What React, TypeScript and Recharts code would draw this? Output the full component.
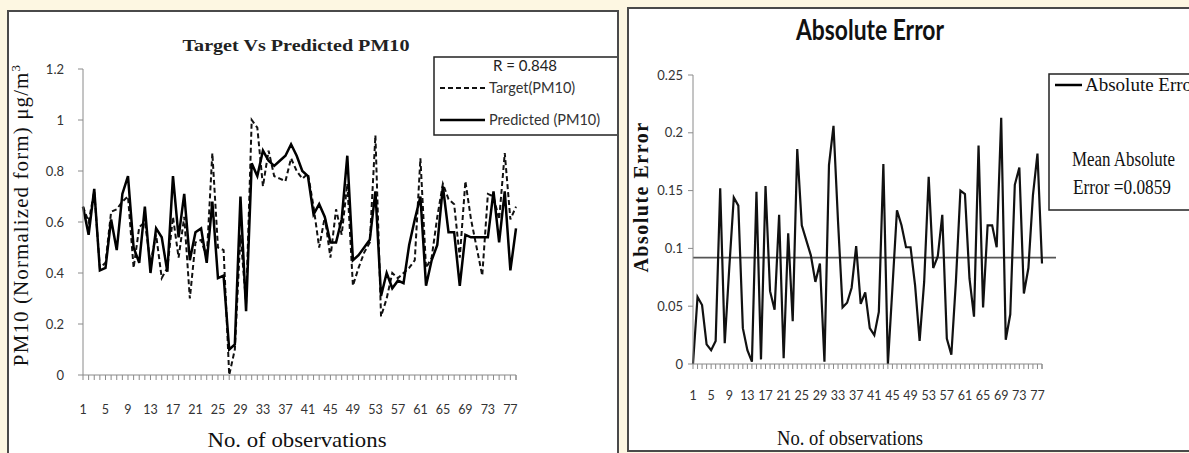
import React from 'react';
import { LineChart, Line, XAxis, YAxis, ReferenceLine } from 'recharts';

const observations = [
  1, 2, 3, 4, 5, 6, 7, 8, 9, 10, 11, 12, 13, 14, 15, 16, 17, 18, 19, 20,
  21, 22, 23, 24, 25, 26, 27, 28, 29, 30, 31, 32, 33, 34, 35, 36, 37, 38, 39, 40,
  41, 42, 43, 44, 45, 46, 47, 48, 49, 50, 51, 52, 53, 54, 55, 56, 57, 58, 59, 60,
  61, 62, 63, 64, 65, 66, 67, 68, 69, 70, 71, 72, 73, 74, 75, 76, 77, 78,
];

const targetPM10 = [
  0.66, 0.6, 0.72, 0.42, 0.44, 0.64, 0.65, 0.68, 0.7, 0.42,
  0.58, 0.6, 0.44, 0.55, 0.38, 0.42, 0.62, 0.46, 0.62, 0.3,
  0.52, 0.53, 0.46, 0.87, 0.5, 0.49, 0.0, 0.1, 0.55, 0.28,
  1.0, 0.97, 0.74, 0.88, 0.78, 0.77, 0.76, 0.85, 0.8, 0.77,
  0.79, 0.66, 0.5, 0.62, 0.46, 0.65, 0.55, 0.75, 0.35, 0.42,
  0.48, 0.52, 0.94, 0.23, 0.3, 0.4, 0.38, 0.4, 0.42, 0.45,
  0.85, 0.42, 0.46, 0.62, 0.75, 0.69, 0.67, 0.46, 0.76, 0.61,
  0.5, 0.39, 0.71, 0.7, 0.61, 0.87, 0.61, 0.66,
];

const predictedPM10 = [
  0.66, 0.55, 0.73, 0.41, 0.42, 0.61, 0.49, 0.71, 0.78, 0.5,
  0.44, 0.66, 0.4, 0.575, 0.54, 0.405, 0.78, 0.54, 0.71, 0.45,
  0.56, 0.575, 0.44, 0.68, 0.38, 0.39, 0.1, 0.12, 0.7, 0.25,
  0.83, 0.78, 0.88, 0.84, 0.82, 0.84, 0.86, 0.905, 0.86, 0.8,
  0.78, 0.63, 0.67, 0.62, 0.52, 0.52, 0.61, 0.86, 0.45, 0.47,
  0.5, 0.53, 0.72, 0.31, 0.4, 0.34, 0.37, 0.36, 0.51, 0.61,
  0.7, 0.35, 0.45, 0.51, 0.74, 0.56, 0.56, 0.35, 0.55, 0.54,
  0.54, 0.54, 0.54, 0.72, 0.52, 0.72, 0.41, 0.575,
];

const absoluteError = [
  0.0, 0.058, 0.051, 0.017, 0.012, 0.02, 0.152, 0.018, 0.083, 0.144,
  0.137, 0.031, 0.012, 0.002, 0.149, 0.004, 0.154, 0.063, 0.047, 0.129,
  0.005, 0.113, 0.037, 0.186, 0.12, 0.107, 0.094, 0.071, 0.087, 0.002,
  0.172, 0.206, 0.123, 0.049, 0.053, 0.066, 0.102, 0.052, 0.062, 0.031,
  0.025, 0.045, 0.173, 0.0, 0.066, 0.133, 0.12, 0.101, 0.101, 0.068,
  0.02, 0.071, 0.162, 0.083, 0.093, 0.129, 0.022, 0.008, 0.071, 0.15,
  0.147, 0.074, 0.041, 0.189, 0.049, 0.12, 0.12, 0.101, 0.213, 0.021,
  0.043, 0.155, 0.17, 0.061, 0.083, 0.146, 0.182, 0.087,
];

const pmTicks = [0, 0.2, 0.4, 0.6, 0.8, 1, 1.2];
const errorTicks = [0, 0.05, 0.1, 0.15, 0.2, 0.25];
const meanErrorLevel = 0.092;

const leftTitle = 'Target Vs Predicted PM10';
const leftYLabel = 'PM10 (Normalized form) \u03bcg/m';
const xLabel = 'No. of observations';
const correlationLabel = 'R = 0.848';
const targetName = 'Target(PM10)';
const predictedName = 'Predicted (PM10)';
const rightTitle = 'Absolute Error';
const rightYLabel = 'Absolute Error';
const errorName = 'Absolute Error';
const meanLine1 = 'Mean Absolute';
const meanLine2 = 'Error =0.0859';

const pmData = observations.map((o, i) => ({
  obs: o,
  target: targetPM10[i],
  predicted: predictedPM10[i],
}));
const errData = observations.map((o, i) => ({ obs: o, error: absoluteError[i] }));

const SANS = 'Lato, "Open Sans", sans-serif';
const SERIF = '"Liberation Serif", "Times New Roman", serif';
const AXIS_GRAY = '#8a8a8a';

const makeXTick = (labelDy: number, total: number) => (props: any) => {
  const { x, y, payload, index } = props;
  const half = payload && typeof payload.offset === 'number' ? payload.offset : 0;
  return (
    <g>
      <line x1={x - half} x2={x - half} y1={y - 5} y2={y} stroke={AXIS_GRAY} strokeWidth={1} />
      {index === total - 1 && (
        <line x1={x + half} x2={x + half} y1={y - 5} y2={y} stroke={AXIS_GRAY} strokeWidth={1} />
      )}
      {index % 4 === 0 && (
        <text x={x} y={y + labelDy} textAnchor="middle" fontFamily={SANS} fontSize={12.5} fill="#333">
          {payload.value}
        </text>
      )}
    </g>
  );
};

const leftXTick = makeXTick(34, observations.length);
const rightXTick = makeXTick(31, observations.length);

const MeanLineShape = (p: any) => (
  <line x1={p.x1} y1={p.y1} x2={p.x2 + 14} y2={p.y2} stroke="#555" strokeWidth={1.6} />
);

export default function App() {
  return (
    <div
      style={{
        position: 'absolute',
        left: 0,
        top: 0,
        width: 1189,
        height: 453,
        overflow: 'hidden',
        background: '#fdf7e2',
      }}
    >
      {/* Left panel */}
      <div
        style={{
          position: 'absolute',
          left: 7,
          top: 10,
          width: 612,
          height: 460,
          border: '2px solid #4a4a4a',
          background: '#ffffff',
          boxSizing: 'border-box',
          overflow: 'hidden',
        }}
      >
        <LineChart
          width={600}
          height={440}
          data={pmData}
          margin={{ top: 57, right: 93, left: 14, bottom: 37 }}
        >
          <XAxis
            dataKey="obs"
            interval={0}
            tick={leftXTick}
            tickLine={false}
            tickSize={5}
            tickMargin={0}
            height={40}
            axisLine={{ stroke: AXIS_GRAY }}
          />
          <YAxis
            domain={[0, 1.2]}
            ticks={pmTicks}
            interval={0}
            width={60}
            tickSize={5}
            tickMargin={14}
            axisLine={{ stroke: AXIS_GRAY }}
            tickLine={{ stroke: AXIS_GRAY }}
            tick={{ fontFamily: SANS, fontSize: 13, fill: '#333' }}
          />
          <Line
            type="linear"
            dataKey="target"
            stroke="#111"
            strokeWidth={2}
            strokeDasharray="5 3"
            dot={false}
            isAnimationActive={false}
          />
          <Line
            type="linear"
            dataKey="predicted"
            stroke="#000"
            strokeWidth={2.5}
            dot={false}
            isAnimationActive={false}
          />
        </LineChart>
        <svg
          width={612}
          height={460}
          style={{ position: 'absolute', left: 0, top: 0, pointerEvents: 'none' }}
        >
          <text
            x={287}
            y={39}
            textAnchor="middle"
            fontFamily={SERIF}
            fontWeight="bold"
            fontSize={17}
            textLength={227}
            lengthAdjust="spacingAndGlyphs"
            fill="#222"
          >
            {leftTitle}
          </text>
          <text
            transform="translate(12,203) rotate(-90)"
            textAnchor="middle"
            dominantBaseline="central"
            fontFamily={SERIF}
            fontSize={21}
            letterSpacing={1.1}
            fill="#111"
          >
            {leftYLabel}
            <tspan dy={-6} fontSize={13}>3</tspan>
          </text>
          <text
            x={288}
            y={435}
            textAnchor="middle"
            fontFamily={SERIF}
            fontSize={22}
            textLength={179}
            lengthAdjust="spacingAndGlyphs"
            fill="#111"
          >
            {xLabel}
          </text>
          <rect x={425} y={45} width={200} height={78} fill="#fff" stroke="#222" strokeWidth={1.5} />
          <text x={516} y={59} textAnchor="middle" fontFamily={SANS} fontSize={15} fill="#222">
            {correlationLabel}
          </text>
          <line x1={431} x2={476} y1={76} y2={76} stroke="#111" strokeWidth={2} strokeDasharray="5 3" />
          <text x={480} y={81} fontFamily={SANS} fontSize={14.5} fill="#333">
            {targetName}
          </text>
          <line x1={431} x2={476} y1={108} y2={108} stroke="#000" strokeWidth={2.5} />
          <text x={480} y={113} fontFamily={SANS} fontSize={14.5} fill="#333">
            {predictedName}
          </text>
        </svg>
      </div>

      {/* Right panel */}
      <div
        style={{
          position: 'absolute',
          left: 627,
          top: 7,
          width: 600,
          height: 445,
          border: '2px solid #4a4a4a',
          background: '#ffffff',
          boxSizing: 'border-box',
          overflow: 'hidden',
        }}
      >
        <LineChart
          width={558}
          height={436}
          data={errData}
          margin={{ top: 66, right: 145, left: 14, bottom: 41 }}
        >
          <XAxis
            dataKey="obs"
            interval={0}
            tick={rightXTick}
            tickLine={false}
            tickSize={5}
            tickMargin={0}
            height={40}
            axisLine={{ stroke: AXIS_GRAY }}
          />
          <YAxis
            domain={[0, 0.25]}
            ticks={errorTicks}
            interval={0}
            width={50}
            tickSize={5}
            tickMargin={5}
            axisLine={{ stroke: AXIS_GRAY }}
            tickLine={{ stroke: AXIS_GRAY }}
            tick={{ fontFamily: SANS, fontSize: 13, fill: '#333' }}
          />
          <ReferenceLine y={meanErrorLevel} stroke="#555" strokeWidth={1.6} shape={MeanLineShape} />
          <Line
            type="linear"
            dataKey="error"
            stroke="#111"
            strokeWidth={2.2}
            dot={false}
            isAnimationActive={false}
          />
        </LineChart>
        <svg
          width={600}
          height={445}
          style={{ position: 'absolute', left: 0, top: 0, pointerEvents: 'none' }}
        >
          <text
            x={241}
            y={31}
            textAnchor="middle"
            fontFamily={SANS}
            fontWeight="bold"
            fontSize={29}
            textLength={148}
            lengthAdjust="spacingAndGlyphs"
            fill="#111"
          >
            {rightTitle}
          </text>
          <text
            transform="translate(12,188) rotate(-90)"
            textAnchor="middle"
            dominantBaseline="central"
            fontFamily={SERIF}
            fontWeight="bold"
            fontSize={20}
            letterSpacing={1.5}
            fill="#111"
          >
            {rightYLabel}
          </text>
          <text
            x={221}
            y={436}
            textAnchor="middle"
            fontFamily={SERIF}
            fontSize={21}
            textLength={146}
            lengthAdjust="spacingAndGlyphs"
            fill="#111"
          >
            {xLabel}
          </text>
          <rect x={420} y={65} width={170} height={136} fill="#fff" stroke="#222" strokeWidth={1.5} />
          <line x1={426} x2={453} y1={76} y2={76} stroke="#000" strokeWidth={2.5} />
          <text x={456} y={82} fontFamily={SERIF} fontSize={19} fill="#111">
            {errorName}
          </text>
          <text
            x={443}
            y={157}
            fontFamily={SERIF}
            fontSize={20}
            textLength={103}
            lengthAdjust="spacingAndGlyphs"
            fill="#111"
          >
            {meanLine1}
          </text>
          <text
            x={444}
            y={185}
            fontFamily={SERIF}
            fontSize={20}
            textLength={98}
            lengthAdjust="spacingAndGlyphs"
            fill="#111"
          >
            {meanLine2}
          </text>
        </svg>
      </div>
    </div>
  );
}
